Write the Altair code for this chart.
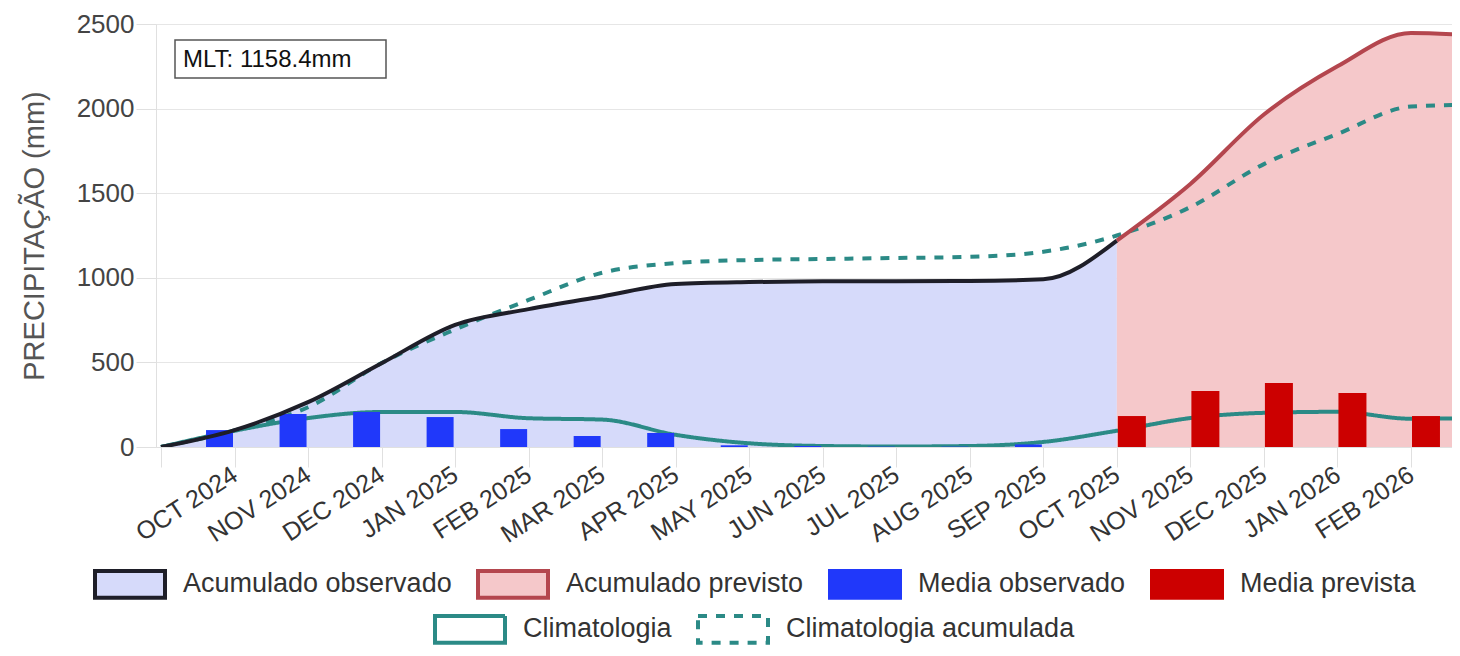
import json
import altair as alt
import pandas as pd

# ---------------- data ----------------
month_labels = ["", "OCT 2024", "NOV 2024", "DEC 2024", "JAN 2025", "FEB 2025", "MAR 2025",
                "APR 2025", "MAY 2025", "JUN 2025", "JUL 2025", "AUG 2025", "SEP 2025",
                "OCT 2025", "NOV 2025", "DEC 2025", "JAN 2026", "FEB 2026", "MAR 2026"]

acc_obs_idx = list(range(0, 14))
acc_obs = [0, 100, 265, 495, 722, 815, 890, 963, 975, 979, 980, 981, 991, 1220]

acc_prev_idx = list(range(13, 19))
acc_prev = [1220, 1555, 1965, 2250, 2447, 2430]

bar_obs_idx = list(range(1, 13))
bar_obs = [100, 195, 207, 177, 106, 65, 83, 10, 6, 2, 2, 15]

bar_prev_idx = list(range(13, 18))
bar_prev = [183, 331, 378, 319, 183]

clim_idx = list(range(0, 19))
clim = [0, 96, 171, 207, 207, 170, 162, 72, 22, 6, 3, 6, 30, 96, 171, 202, 208, 167, 172]
clim_acc = [0, 98, 235, 496, 695, 869, 1030, 1087, 1105, 1111, 1117, 1124, 1154, 1250,
            1418, 1672, 1850, 2012, 2025]

mlt_text = "MLT: 1158.4mm"

S_OBS = "Acumulado observado"
S_PREV = "Acumulado previsto"
S_MOBS = "Media observado"
S_MPREV = "Media prevista"
S_CLIM = "Climatologia"
S_CLIMACC = "Climatologia acumulada"

# ---------------- tables ----------------
acc_df = pd.concat([
    pd.DataFrame({"idx": acc_obs_idx, "value": acc_obs, "serie": S_OBS}),
    pd.DataFrame({"idx": acc_prev_idx, "value": acc_prev, "serie": S_PREV}),
])
bar_df = pd.concat([
    pd.DataFrame({"idx": bar_obs_idx, "value": bar_obs, "serie": S_MOBS}),
    pd.DataFrame({"idx": bar_prev_idx, "value": bar_prev, "serie": S_MPREV}),
])
clim_df = pd.concat([
    pd.DataFrame({"idx": clim_idx, "value": clim_acc, "serie": S_CLIMACC}),
    pd.DataFrame({"idx": clim_idx, "value": clim, "serie": S_CLIM}),
])
mlt_df = pd.DataFrame({"t": [mlt_text]})

# ---------------- styles ----------------
FONT = "Liberation Sans"
TEAL = "#2b8a86"
domA = [S_OBS, S_PREV, S_MOBS, S_MPREV]
fill_range = ["#d6dafa", "#f5c8ca", "#2038fa", "#cc0000"]
stroke_range = ["#1e1e28", "#b4464e", "#2038fa", "#cc0000"]
domB = [S_CLIM, S_CLIMACC]
dash_range = [[1, 0], [9, 9]]

box_path = "M-1,-0.38L1,-0.38L1,0.38L-1,0.38Z"

legA = alt.Legend(title=None, orient="none", legendX=-63, legendY=523,
                  direction="horizontal", columns=4, symbolType=box_path,
                  symbolSize=4900, symbolStrokeWidth=4, symbolOpacity=1,
                  labelFontSize=27, labelFont=FONT, labelColor="#333",
                  labelOffset=16, columnPadding=18, padding=0, labelLimit=0)
legB = alt.Legend(title=None, orient="none", legendX=277, legendY=568,
                  direction="horizontal", columns=2, symbolType=box_path,
                  symbolSize=4900, symbolStrokeWidth=4, symbolOpacity=1,
                  symbolStrokeColor=TEAL, symbolFillColor="white",
                  labelFontSize=27, labelFont=FONT, labelColor="#333",
                  labelOffset=16, columnPadding=18, padding=0, labelLimit=0)

label_expr = "%s[datum.value]" % json.dumps(month_labels)

x_enc = alt.X("idx:Q",
              scale=alt.Scale(domain=[0, 17.49], nice=False, zero=False),
              axis=alt.Axis(values=list(range(0, 18)), labelExpr=label_expr, title=None,
                            grid=False, tickSize=20, tickColor="#e0e0e0",
                            domainColor="#e0e0e0", labelAngle=-33, labelAlign="right",
                            labelBaseline="middle", labelFontSize=25, labelFont=FONT,
                            labelColor="#333", labelPadding=5, labelOverlap=False,
                            labelFlush=False))
y_enc = alt.Y("value:Q", stack=None,
              scale=alt.Scale(domain=[0, 2500], nice=False),
              axis=alt.Axis(values=[0, 500, 1000, 1500, 2000, 2500], format="d",
                            title="PRECIPITAÇÃO (mm)", titleFont=FONT, titleFontSize=29,
                            titleFontWeight="normal", titleColor="#555", titlePadding=27,
                            labelFont=FONT, labelFontSize=26, labelColor="#444",
                            labelPadding=2, tickSize=20, tickColor="#e0e0e0",
                            domainColor="#e0e0e0", gridColor="#e6e6e6"))

fill_enc = alt.Fill("serie:N", scale=alt.Scale(domain=domA, range=fill_range), legend=legA)
stroke_enc = alt.Stroke("serie:N", scale=alt.Scale(domain=domA, range=stroke_range), legend=legA)

areas = alt.Chart(acc_df).mark_area(interpolate="monotone", clip=True, opacity=1).encode(
    x=x_enc, y=y_enc, fill=fill_enc)

clim_lines = alt.Chart(clim_df).mark_line(interpolate="monotone", clip=True,
                                          strokeWidth=4, color=TEAL).encode(
    x=x_enc, y=y_enc,
    strokeDash=alt.StrokeDash("serie:N", scale=alt.Scale(domain=domB, range=dash_range),
                              legend=legB))

bars_obs = alt.Chart(bar_df).transform_filter(alt.datum.serie == S_MOBS).mark_bar(
    size=27, xOffset=-15, clip=True).encode(x=x_enc, y=y_enc, fill=fill_enc)
bars_prev = alt.Chart(bar_df).transform_filter(alt.datum.serie == S_MPREV).mark_bar(
    size=28, xOffset=15, clip=True).encode(x=x_enc, y=y_enc, fill=fill_enc)

acc_lines = alt.Chart(acc_df).mark_line(interpolate="monotone", clip=True,
                                        strokeWidth=4).encode(
    x=x_enc, y=y_enc, stroke=stroke_enc)

mlt_box = alt.Chart(mlt_df).mark_rect(fill="white", stroke="#555", strokeWidth=1.5).encode(
    x=alt.value(19), x2=alt.value(230), y=alt.value(16), y2=alt.value(54))
mlt_label = alt.Chart(mlt_df).mark_text(align="left", baseline="middle", fontSize=24,
                                        font=FONT, color="#111").encode(
    x=alt.value(27), y=alt.value(36), text="t:N")

chart = alt.layer(areas, clim_lines, bars_obs, bars_prev, acc_lines, mlt_box, mlt_label).properties(
    width=1296, height=423,
    padding={"left": 148, "top": 16, "right": 0, "bottom": 200},
    autosize=alt.AutoSizeParams(type="none"),
    background="white",
).configure_view(strokeWidth=0).configure(font=FONT)

chart.save("out.html", embed_options={"renderer": "svg", "actions": False})
